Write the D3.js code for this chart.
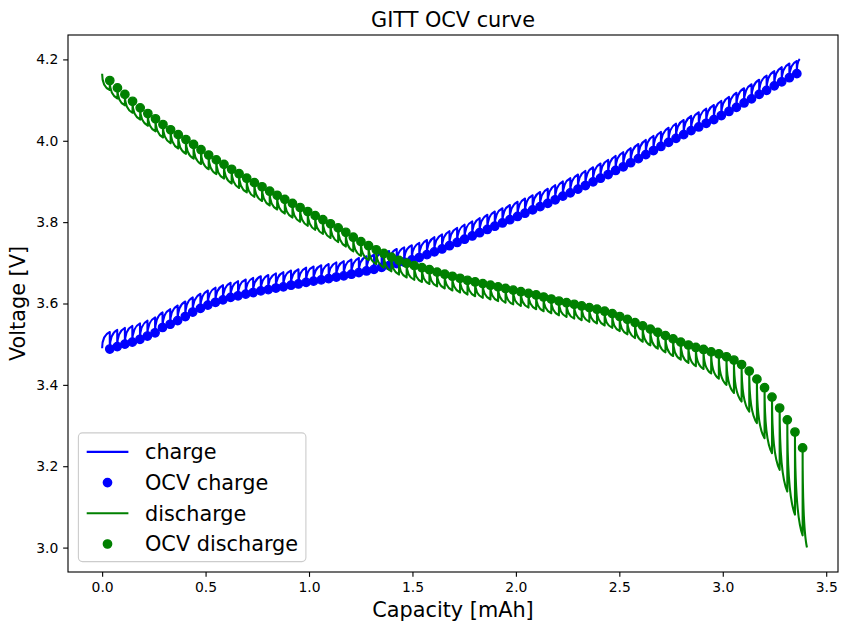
<!DOCTYPE html>
<html>
<head>
<meta charset="utf-8">
<script src="https://cdn.jsdelivr.net/npm/d3@7"></script>
<style>
  body { margin: 0; background: #fff; }
  text { font-family: "DejaVu Sans", sans-serif; fill: #000; }
</style>
</head>
<body>
<div id="chart"></div>
<script>
// GITT charge: capacity at end of each pulse [mAh], relaxed OCV [V], voltage at end of pulse [V]
const chargeCap = [
  0.037,0.073,0.110,0.146,0.183,0.219,0.256,0.292,0.329,0.365,
  0.402,0.438,0.475,0.511,0.548,0.584,0.621,0.657,0.694,0.730,
  0.767,0.803,0.840,0.876,0.913,0.949,0.986,1.022,1.059,1.095,
  1.132,1.168,1.205,1.241,1.278,1.314,1.351,1.387,1.424,1.460,
  1.497,1.533,1.570,1.606,1.643,1.679,1.716,1.752,1.789,1.825,
  1.862,1.898,1.935,1.971,2.008,2.044,2.081,2.117,2.154,2.190,
  2.227,2.263,2.300,2.336,2.373,2.409,2.446,2.482,2.519,2.555,
  2.592,2.628,2.665,2.701,2.738,2.774,2.811,2.847,2.884,2.920,
  2.957,2.993,3.030,3.066,3.103,3.139,3.176,3.212,3.249,3.285,
  3.322,3.358
];
const chargeOCV = [
  3.488,3.494,3.500,3.505,3.512,3.520,3.528,3.541,3.549,3.558,
  3.568,3.579,3.588,3.596,3.603,3.609,3.615,3.619,3.623,3.627,
  3.631,3.634,3.638,3.641,3.645,3.648,3.652,3.655,3.658,3.661,
  3.665,3.668,3.672,3.676,3.680,3.684,3.689,3.693,3.698,3.702,
  3.707,3.713,3.720,3.727,3.734,3.742,3.750,3.758,3.766,3.774,
  3.782,3.790,3.798,3.806,3.814,3.822,3.830,3.838,3.846,3.855,
  3.864,3.872,3.881,3.890,3.899,3.908,3.917,3.927,3.936,3.946,
  3.956,3.966,3.976,3.986,3.996,4.006,4.015,4.025,4.034,4.043,
  4.052,4.062,4.072,4.082,4.093,4.103,4.114,4.124,4.135,4.145,
  4.155,4.165
];
const chargeEnd = [
  3.530,3.535,3.540,3.545,3.551,3.558,3.566,3.578,3.586,3.595,
  3.605,3.615,3.624,3.632,3.639,3.645,3.651,3.655,3.659,3.663,
  3.667,3.670,3.674,3.677,3.681,3.684,3.688,3.691,3.694,3.697,
  3.701,3.704,3.708,3.712,3.716,3.720,3.725,3.729,3.734,3.738,
  3.743,3.749,3.756,3.763,3.770,3.778,3.786,3.794,3.802,3.810,
  3.818,3.826,3.834,3.842,3.850,3.858,3.866,3.874,3.882,3.891,
  3.900,3.908,3.917,3.926,3.935,3.944,3.953,3.963,3.972,3.982,
  3.992,4.002,4.012,4.022,4.032,4.042,4.051,4.061,4.070,4.079,
  4.088,4.098,4.108,4.118,4.129,4.139,4.150,4.160,4.171,4.181,
  4.190,4.196
];
// rest voltage at 0 mAh and the last (cut-off) pulse end
const chargeRest = 3.490;
const chargeStop = { cap: 3.372, v: 4.201 };

// GITT discharge
const dischargeCap = [
  0.037,0.074,0.110,0.147,0.184,0.221,0.258,0.294,0.331,0.368,
  0.405,0.442,0.478,0.515,0.552,0.589,0.626,0.662,0.699,0.736,
  0.773,0.810,0.846,0.883,0.920,0.957,0.994,1.030,1.067,1.104,
  1.141,1.178,1.214,1.251,1.288,1.325,1.362,1.398,1.435,1.472,
  1.509,1.546,1.582,1.619,1.656,1.693,1.730,1.766,1.803,1.840,
  1.877,1.914,1.950,1.987,2.024,2.061,2.098,2.134,2.171,2.208,
  2.245,2.282,2.318,2.355,2.392,2.429,2.466,2.502,2.539,2.576,
  2.613,2.650,2.686,2.723,2.760,2.797,2.834,2.870,2.907,2.944,
  2.981,3.018,3.054,3.091,3.128,3.165,3.202,3.238,3.275,3.312,
  3.349,3.386
];
const dischargeOCV = [
  4.148,4.130,4.114,4.097,4.081,4.067,4.054,4.040,4.027,4.015,
  4.003,3.991,3.978,3.965,3.953,3.942,3.930,3.919,3.908,3.897,
  3.887,3.876,3.866,3.856,3.846,3.836,3.826,3.816,3.806,3.796,
  3.786,3.775,3.763,3.752,3.742,3.732,3.723,3.714,3.706,3.699,
  3.693,3.688,3.683,3.677,3.672,3.667,3.662,3.657,3.653,3.649,
  3.645,3.641,3.637,3.633,3.629,3.625,3.621,3.616,3.611,3.606,
  3.602,3.598,3.594,3.590,3.586,3.581,3.575,3.568,3.561,3.553,
  3.545,3.537,3.529,3.521,3.513,3.505,3.498,3.492,3.487,3.481,
  3.476,3.469,3.461,3.450,3.434,3.414,3.393,3.370,3.343,3.314,
  3.284,3.245
];
const dischargeEnd = [
  4.125,4.104,4.087,4.069,4.052,4.037,4.023,4.008,3.994,3.981,
  3.968,3.956,3.943,3.930,3.918,3.907,3.895,3.884,3.873,3.862,
  3.852,3.841,3.831,3.821,3.811,3.801,3.791,3.781,3.771,3.761,
  3.751,3.740,3.728,3.717,3.707,3.697,3.688,3.679,3.671,3.664,
  3.658,3.653,3.648,3.642,3.637,3.632,3.627,3.622,3.618,3.614,
  3.610,3.606,3.602,3.598,3.594,3.590,3.586,3.581,3.576,3.571,
  3.567,3.563,3.559,3.555,3.551,3.546,3.540,3.532,3.524,3.515,
  3.506,3.497,3.489,3.480,3.471,3.462,3.454,3.446,3.439,3.428,
  3.415,3.400,3.380,3.359,3.334,3.306,3.269,3.232,3.191,3.138,
  3.081,3.030
];
const dischargeRest = 4.165;
const dischargeStop = { cap: 3.407, v: 3.000 };

const xTicks = [0, 0.5, 1.0, 1.5, 2.0, 2.5, 3.0, 3.5];
const yTicks = [3.0, 3.2, 3.4, 3.6, 3.8, 4.0, 4.2];

const series = [
  { name: 'charge', ocvName: 'OCV charge', color: '#0000ff',
    cap: chargeCap, ocv: chargeOCV, end: chargeEnd, rest: chargeRest, stop: chargeStop },
  { name: 'discharge', ocvName: 'OCV discharge', color: '#008000',
    cap: dischargeCap, ocv: dischargeOCV, end: dischargeEnd, rest: dischargeRest, stop: dischargeStop }
];

const width = 852, height = 632;
const margin = { top: 35, right: 14, bottom: 60, left: 68 };
const innerWidth = width - margin.left - margin.right;
const innerHeight = height - margin.top - margin.bottom;

const xScale = d3.scaleLinear().domain([-0.165, 3.557]).range([0, innerWidth]);
const yScale = d3.scaleLinear().domain([2.94, 4.26]).range([innerHeight, 0]);

const svg = d3.select('#chart').append('svg')
  .attr('width', width)
  .attr('height', height);

const g = svg.append('g')
  .attr('transform', `translate(${margin.left},${margin.top})`);

g.append('clipPath').attr('id', 'plot-clip')
  .append('rect').attr('width', innerWidth).attr('height', innerHeight);

// each pulse leaves the relaxed point almost vertically and levels off
// toward the end-of-pulse voltage, then relaxes vertically to the OCV point
function gittPath(s) {
  const p = d3.path();
  const pulseTo = (c0, v0, c1, v1) => {
    const x0 = xScale(c0), y0 = yScale(v0), x1 = xScale(c1), y1 = yScale(v1);
    p.quadraticCurveTo(x0, y0 + 0.8 * (y1 - y0), x1, y1);
  };
  p.moveTo(xScale(0), yScale(s.rest));
  let c0 = 0, v0 = s.rest;
  s.cap.forEach((c, i) => {
    pulseTo(c0, v0, c, s.end[i]);
    p.lineTo(xScale(c), yScale(s.ocv[i]));
    c0 = c; v0 = s.ocv[i];
  });
  pulseTo(c0, v0, s.stop.cap, s.stop.v);
  return p.toString();
}

const plot = g.append('g').attr('clip-path', 'url(#plot-clip)');

series.forEach(s => {
  plot.append('path')
    .attr('d', gittPath(s))
    .attr('fill', 'none')
    .attr('stroke', s.color)
    .attr('stroke-width', 2.08)
    .attr('stroke-linejoin', 'round');

  plot.append('g').selectAll('circle')
    .data(s.cap.map((c, i) => [c, s.ocv[i]]))
    .join('circle')
    .attr('cx', d => xScale(d[0]))
    .attr('cy', d => yScale(d[1]))
    .attr('r', 4.17)
    .attr('fill', s.color)
    .attr('stroke', s.color)
    .attr('stroke-width', 1.39);
});

// axes
const xAxis = d3.axisBottom(xScale)
  .tickValues(xTicks)
  .tickFormat(d3.format('.1f'))
  .tickSize(4.86)
  .tickPadding(4.86);

const yAxis = d3.axisLeft(yScale)
  .tickValues(yTicks)
  .tickFormat(d3.format('.1f'))
  .tickSize(4.86)
  .tickPadding(4.86);

const xAxisG = g.append('g')
  .attr('transform', `translate(0,${innerHeight})`)
  .call(xAxis);
const yAxisG = g.append('g').call(yAxis);

[xAxisG, yAxisG].forEach(a => {
  a.attr('font-family', null).attr('font-size', null);
  a.select('.domain').remove();
  a.selectAll('.tick line').attr('stroke', '#000').attr('stroke-width', 1.11);
  a.selectAll('.tick text')
    .style('font-size', '13.9px')
    .attr('fill', '#000');
});

g.append('rect')
  .attr('width', innerWidth)
  .attr('height', innerHeight)
  .attr('fill', 'none')
  .attr('stroke', '#000')
  .attr('stroke-width', 1.11);

// labels
g.append('text')
  .attr('x', innerWidth / 2)
  .attr('y', -8.3)
  .attr('text-anchor', 'middle')
  .style('font-size', '20.8px')
  .text('GITT OCV curve');

g.append('text')
  .attr('x', innerWidth / 2)
  .attr('y', innerHeight + 45)
  .attr('text-anchor', 'middle')
  .style('font-size', '20.8px')
  .text('Capacity [mAh]');

g.append('text')
  .attr('transform', `translate(${-43},${innerHeight / 2}) rotate(-90)`)
  .attr('text-anchor', 'middle')
  .style('font-size', '20.8px')
  .text('Voltage [V]');

// legend
const legendItems = [];
series.forEach(s => {
  legendItems.push({ label: s.name, color: s.color, kind: 'line' });
  legendItems.push({ label: s.ocvName, color: s.color, kind: 'dot' });
});

const legend = g.append('g').attr('transform', 'translate(10.4,0)');
const rowGap = 30.7;
const lastRowY = innerHeight - 28;
const legendTop = lastRowY - 3 * rowGap - 19;

legend.append('rect')
  .attr('x', 0)
  .attr('y', legendTop)
  .attr('width', 227.5)
  .attr('height', innerHeight - 10.4 - legendTop)
  .attr('rx', 4)
  .attr('fill', '#fff')
  .attr('fill-opacity', 0.8)
  .attr('stroke', '#cccccc')
  .attr('stroke-width', 1.11);

const rows = legend.selectAll('.row')
  .data(legendItems)
  .join('g')
  .attr('class', 'row')
  .attr('transform', (d, i) => `translate(8.3,${lastRowY - (3 - i) * rowGap})`);

rows.filter(d => d.kind === 'line').append('line')
  .attr('x1', 0).attr('x2', 41.7)
  .attr('stroke', d => d.color)
  .attr('stroke-width', 2.08);

rows.filter(d => d.kind === 'dot').append('circle')
  .attr('cx', 20.8)
  .attr('r', 4.17)
  .attr('fill', d => d.color)
  .attr('stroke', d => d.color)
  .attr('stroke-width', 1.39);

rows.append('text')
  .attr('x', 58.3)
  .attr('dy', '0.35em')
  .style('font-size', '20.8px')
  .text(d => d.label);
</script>
</body>
</html>
